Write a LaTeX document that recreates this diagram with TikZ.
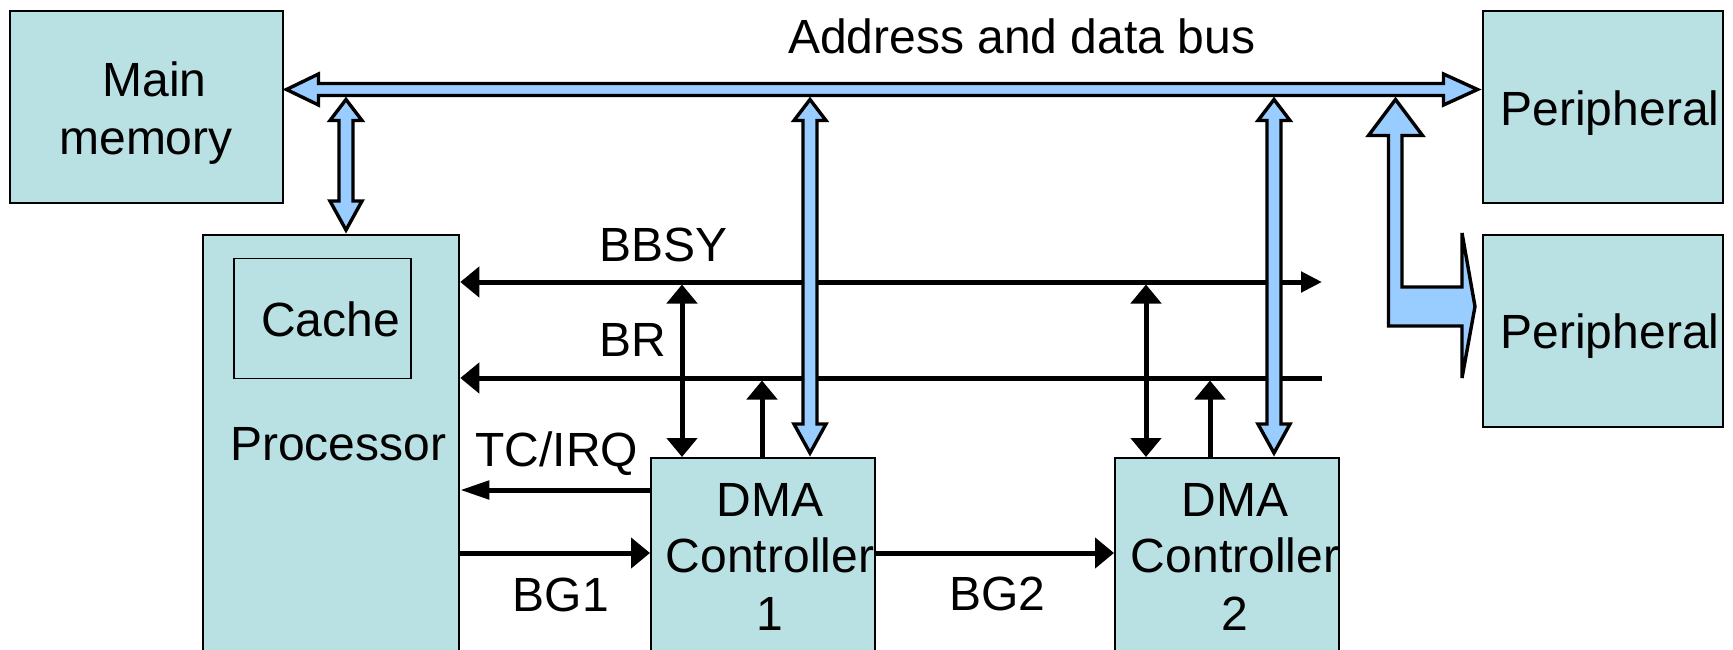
\documentclass[tikz,border=0pt]{standalone}
\usepackage{fontspec}
\setmainfont{Liberation Sans}
\usetikzlibrary{arrows.meta,calc}
\definecolor{boxfill}{RGB}{185,224,227}
\definecolor{busfill}{RGB}{153,204,255}
\tikzset{
 Tb/.tip={Triangle[length=19pt,width=30pt]},
 Ts/.tip={Triangle[length=21pt,width=20pt]},
 Tn/.tip={Triangle[length=29pt,width=18pt]},
 box/.style={draw=black,line width=2.3pt,fill=boxfill,anchor=north west,inner sep=0pt,rectangle},
 lbl/.style={font=\fontsize{48}{56}\selectfont,inner sep=0pt,anchor=base},
 sig/.style={line width=5pt},
 bus/.style={draw=black,fill=busfill,line width=3.4pt,line join=miter}
}
\newcommand\vbusarrow[2]{%
 \draw[bus] (#1) -- ($(#1)+(16,21)$) -- ($(#1)+(7,21)$) -- ($(#2)+(7,-29)$) -- ($(#2)+(16,-29)$) -- (#2)
  -- ($(#2)+(-16,-29)$) -- ($(#2)+(-7,-29)$) -- ($(#1)+(-7,21)$) -- ($(#1)+(-16,21)$) -- cycle;}
\begin{document}
\begin{tikzpicture}[x=1pt,y=-1pt]
\useasboundingbox (0,0) rectangle (1733,649);
\clip (0,0) rectangle (1733,649);
% boxes
\node[box,minimum width=273pt,minimum height=192pt] (mem) at (9,10) {};
\node[box,minimum width=256pt,minimum height=500pt] (proc) at (202,234) {};
\node[box,line width=1.8pt,minimum width=177pt,minimum height=120pt] (cache) at (233,257.5) {};
\node[box,minimum width=224pt,minimum height=300pt] (dma1) at (650,457) {};
\node[box,minimum width=224pt,minimum height=300pt] (dma2) at (1114,457) {};
\node[box,minimum width=240pt,minimum height=192pt] (per1) at (1482,10) {};
\node[box,minimum width=240pt,minimum height=192pt] (per2) at (1482,234) {};
% texts
\node[lbl] (memA) at (154.5,96.7) {Main};
\node[lbl] (memB) at (146,154) {memory};
\node[lbl] (cacheT) at (330.5,336.7) {Cache};
\node[lbl] (procT) at (338.3,460) {Processor};
\node[lbl] (d1a) at (770,516) {DMA};
\node[lbl] (d1b) at (770,572.7) {Controller};
\node[lbl] (d1c) at (770,630) {1};
\node[lbl] (d2a) at (1235,516) {DMA};
\node[lbl] (d2b) at (1235,572.7) {Controller};
\node[lbl] (d2c) at (1235,630) {2};
\node[lbl] (p1T) at (1610,125) {Peripheral};
\node[lbl] (p2T) at (1610,348.3) {Peripheral};
\node[lbl] (busT) at (1021.6,53) {Address and data bus};
\node[lbl] (bbsyT) at (663.3,261) {BBSY};
\node[lbl] (brT) at (632.5,356) {BR};
\node[lbl] (tcT) at (556.7,466.7) {TC/IRQ};
\node[lbl] (bg1T) at (561,611.7) {BG1};
\node[lbl] (bg2T) at (997.5,610.7) {BG2};
% signal coordinates
\coordinate (bbsyE) at (1322,282);
\coordinate (brE) at (1322,378);
\coordinate (tcY) at (0,490);
\coordinate (bgY) at (0,553);
\coordinate (v1a) at (682,284.5);
\coordinate (v1b) at (762,380.5);
\coordinate (v2a) at (1146,284.5);
\coordinate (v2b) at (1210,380.5);
% signal lines
\draw[sig,Tb-Ts] (bbsyE -| proc.east) -- (bbsyE);
\draw[sig,-Tb] (brE) -- (brE -| proc.east);
\draw[sig,-Tn] (tcY -| dma1.west) -- (tcY -| proc.east);
\draw[sig,-Tb] (bgY -| proc.east) -- (bgY -| dma1.west);
\draw[sig,-Tb] (bgY -| dma1.east) -- (bgY -| dma2.west);
\draw[sig,Tb-Tb] (v1a) -- (v1a |- dma1.north);
\draw[sig,-Tb] (v1b |- dma1.north) -- (v1b);
\draw[sig,Tb-Tb] (v2a) -- (v2a |- dma2.north);
\draw[sig,-Tb] (v2b |- dma2.north) -- (v2b);
% main bus
\coordinate (busL) at (286.5,89.5);
\coordinate (busR) at (1477.5,89.5);
\draw[bus] (busL) -- ++(32,-15.5) -- ++(0,9.5) -- ($(busR)+(-34,-6)$) -- ++(0,-9.5) -- (busR)
  -- ++(-34,15.5) -- ++(0,-9.5) -- ($(busL)+(32,6)$) -- ++(0,9.5) -- cycle;
% vertical bus arrows
\coordinate (pTop) at (346,99.5);
\coordinate (pBot) at ($(pTop |- proc.north)+(0,-4)$);
\coordinate (d1Top) at (810,99.5);
\coordinate (d1Bot) at ($(d1Top |- dma1.north)+(0,-4)$);
\coordinate (d2Top) at (1274,99.5);
\coordinate (d2Bot) at ($(d2Top |- dma2.north)+(0,-4)$);
\vbusarrow{pTop}{pBot}
\vbusarrow{d1Top}{d1Bot}
\vbusarrow{d2Top}{d2Bot}
% branch to second peripheral
\coordinate (pbTop) at (1395.5,99.5);
\coordinate (pbEnd) at (1475,306.5);
\draw[bus] (pbTop) -- ++(27,36) -- ++(-20.5,0) -- (1402,287) -- (1462,287) -- (1462,233) -- (pbEnd)
  -- (1462,378) -- (1462,326) -- (1388.5,326) -- (1388.5,135.5) -- (1368.5,135.5) -- cycle;
\end{tikzpicture}
\end{document}
